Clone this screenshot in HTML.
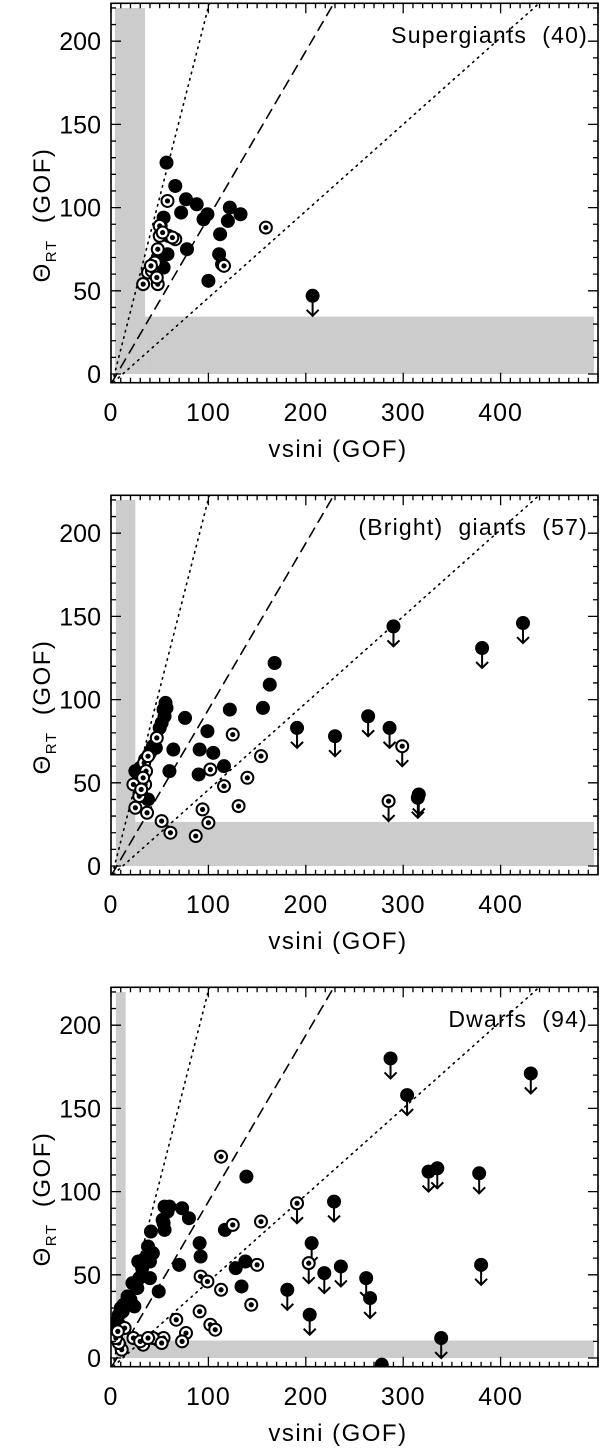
<!DOCTYPE html>
<html><head><meta charset="utf-8">
<style>
body{margin:0;background:#fff;}
svg{display:block;font-family:"Liberation Sans",sans-serif;}
</style></head>
<body>
<svg id="chart" width="600" height="1450" viewBox="0 0 600 1450" xmlns="http://www.w3.org/2000/svg"></svg>
<script>
// ---- data (vsini, Theta_RT) ----
const panelTitles = ["Supergiants (40)", "(Bright) giants (57)", "Dwarfs (94)"];
const xTicks = [0, 100, 200, 300, 400];
const yTicks = [0, 50, 100, 150, 200];
const bandV = [[4, 35], [5, 25], [5, 15]];
const bandH = [34.5, 26.5, 10.5];

const p1Filled = [[57,127],[66,113],[77,105],[88,102],[72,97],[54,94],[51,89],[59,83],[78,75],[58,72],[48,70],[51,66],[54,64],[44,64],[99,96],[95,93],[122,100],[133,96],[120,92],[112,84],[111,72],[114,66],[100,56]];
const p1Open = [[58,104],[159,88],[33,54],[48,54],[38,61],[48,75],[50,83],[66,81],[116,65],[50,89],[42,62],[45,67],[63,82],[47,58],[41,65],[53,85]];
const p1LimFilled = [[207,47]];
const p1LimOpen = [];

const p2Filled = [[56,98],[54,94],[55,90],[50,83],[46,71],[39,67],[76,89],[64,70],[60,57],[99,81],[91,70],[105,68],[90,55],[116,60],[122,94],[156,95],[163,109],[168,122],[25,57],[38,40],[32,42],[43,72],[35,64],[30,59],[52,86],[57,95],[41,69],[28,55]];
const p2Open = [[47,77],[34,62],[36,57],[23,49],[35,49],[29,42],[25,35],[37,32],[125,79],[154,66],[102,58],[116,48],[140,53],[131,36],[94,34],[100,26],[52,27],[61,20],[87,18],[33,53],[38,66],[31,46]];
const p2LimFilled = [[290,144],[423,146],[381,131],[191,83],[230,78],[264,90],[286,83],[316,43],[315,41]];
const p2LimOpen = [[299,72],[285,39]];

const p3Filled = [[17,37],[24,31],[13,32],[8,26],[4,20],[27,42],[29,48],[32,54],[28,58],[40,48],[40,58],[43,63],[38,67],[41,76],[54,81],[55,77],[53,83],[55,91],[60,91],[73,90],[80,84],[70,56],[91,69],[92,61],[49,40],[117,77],[139,109],[128,54],[138,58],[134,43],[20,35],[10,30],[6,22],[3,15],[12,28],[35,60],[22,45],[58,88],[278,-4]];
const p3Open = [[113,121],[125,80],[154,82],[150,56],[144,32],[92,49],[99,46],[113,41],[91,28],[67,23],[102,20],[107,17],[77,15],[73,10],[23,12],[33,8],[48,11],[54,12],[11,5],[8,9],[43,12],[30,10],[38,12],[52,9],[5,12],[14,18],[7,16]];
const p3LimFilled = [[287,180],[304,158],[431,171],[326,112],[335,114],[378,111],[380,56],[229,94],[206,69],[219,51],[236,55],[181,41],[262,48],[266,36],[204,26],[339,12]];
const p3LimOpen = [[191,93],[203,57]];

const filledSets = [p1Filled, p2Filled, p3Filled];
const openSets = [p1Open, p2Open, p3Open];
const limFilledSets = [p1LimFilled, p2LimFilled, p3LimFilled];
const limOpenSets = [p1LimOpen, p2LimOpen, p3LimOpen];

// ---- layout ----
const NS = "http://www.w3.org/2000/svg";
const svg = document.getElementById("chart");
const L = 111, R = 598, XMAX = 500;
const panelOffsets = [0, 492, 984];
const TOP = 3.3, BOT = 382.7, Y0 = 374, YS = 1.664;
function sx(v){ return L + v * (R - L) / XMAX; }
function mkY(off){ return t => off + Y0 - t * YS; }
function el(tag, attrs, parent){
  const e = document.createElementNS(NS, tag);
  for (const k in attrs) e.setAttribute(k, attrs[k]);
  (parent || svg).appendChild(e);
  return e;
}

panelOffsets.forEach((off, pi) => {
  const sy = mkY(off);
  const g = el("g", {});
  
  
  const clipId = "clip" + pi;
  const cp = el("clipPath", {id: clipId}, g);
  el("rect", {x: L, y: off + TOP, width: R - L, height: BOT - TOP}, cp);
  const inner = el("g", {"clip-path": "url(#" + clipId + ")"}, g);

  const bv = el("rect", {x: sx(bandV[pi][0]), y: sy(220), width: sx(bandV[pi][1]) - sx(bandV[pi][0]), height: sy(0) - sy(220), fill: "#cccccc"}, inner);
  
  
  const bh = el("rect", {x: sx(bandV[pi][1]), y: sy(bandH[pi]), width: sx(496) - sx(bandV[pi][1]), height: sy(0) - sy(bandH[pi]), fill: "#cccccc"}, inner);
  
  

  const lines = [
    {a:[1.4,-5], b:[101,223], dash:"1.5 5", name:"steep-dotted-line"},
    {a:[1,-5], b:[229,223], dash:"10 7", name:"one-to-one-dashed-line"},
    {a:[2.5,-5], b:[440,223], dash:"1.5 5", name:"shallow-dotted-line"}
  ];
  lines.forEach(ln => {
    const l = el("line", {x1: sx(ln.a[0]), y1: sy(ln.a[1]), x2: sx(ln.b[0]), y2: sy(ln.b[1]), stroke: "#000", "stroke-width": 1.6, "stroke-dasharray": ln.dash, "stroke-linecap": "round"}, inner);
    
    
  });

  function arrow(p){
    const x = sx(p[0]), y = sy(p[1]);
    const a = el("path", {d: `M${x},${y} V${y+20} M${x-6},${y+14} L${x},${y+20} L${x+6},${y+14}`, stroke: "#000", "stroke-width": 2, fill: "none"}, inner);
    
    
  }
  function filled(p){
    const c = el("circle", {cx: sx(p[0]), cy: sy(p[1]), r: 7, fill: "#000"}, inner);
    
    
  }
  function open(p){
    const c = el("circle", {cx: sx(p[0]), cy: sy(p[1]), r: 6, fill: "#fff", stroke: "#000", "stroke-width": 2}, inner);
    
    
    const d = el("circle", {cx: sx(p[0]), cy: sy(p[1]), r: 2.6, fill: "#000"}, inner);
    
    
  }
  limFilledSets[pi].forEach(arrow);
  limOpenSets[pi].forEach(arrow);
  filledSets[pi].forEach(filled);
  openSets[pi].forEach(open);
  limFilledSets[pi].forEach(filled);
  limOpenSets[pi].forEach(open);

  const fr = el("rect", {x: L, y: off + TOP, width: R - L, height: BOT - TOP, fill: "none", stroke: "#000", "stroke-width": 1.6}, g);
  
  

  let d = "";
  for (let v = 0; v <= XMAX; v += 10) {
    const len = (v % 100 === 0) ? 10 : 5, x = sx(v);
    d += `M${x},${off+BOT} v${-len} M${x},${off+TOP} v${len} `;
  }
  for (let t = 0; t <= 220; t += 10) {
    const len = (t % 50 === 0) ? 10 : 5, y = sy(t);
    d += `M${L},${y} h${len} M${R},${y} h${-len} `;
  }
  const tk = el("path", {d: d, stroke: "#000", "stroke-width": 1.3, fill: "none"}, g);
  
  

  xTicks.forEach(v => {
    const t = el("text", {x: sx(v), y: off + 421, "font-size": 25, "letter-spacing": 1, "text-anchor": "middle"}, g);
    t.textContent = v;
    
    
  });
  yTicks.forEach(v => {
    const t = el("text", {x: 101, y: sy(v) + 9, "font-size": 25, "text-anchor": "end"}, g);
    t.textContent = v;
    
    
  });

  const xt = el("text", {x: 338, y: off + 457, "font-size": 24, "letter-spacing": 1.5, "text-anchor": "middle", "xml:space": "preserve"}, g);
  xt.textContent = "vsini  (GOF)";
  
  

  const yt = el("text", {x: 0, y: 0, "font-size": 24, "letter-spacing": 1.5, "text-anchor": "middle", transform: `translate(50,${off+215}) rotate(-90)`}, g);
  
  
  const s1 = el("tspan", {}, yt); s1.textContent = "Θ";
  const s2 = el("tspan", {"font-size": 15, dy: 6}, yt); s2.textContent = "RT";
  const s3 = el("tspan", {dy: -6}, yt); s3.textContent = "\u00a0\u00a0(GOF)";

  const pt = el("text", {x: 588, y: off + 43, "font-size": 23, "letter-spacing": 1.2, "text-anchor": "end"}, g);
  pt.textContent = panelTitles[pi].replace(/ /g, "\u00a0\u00a0");
  
  
});
</script>
</body></html>
